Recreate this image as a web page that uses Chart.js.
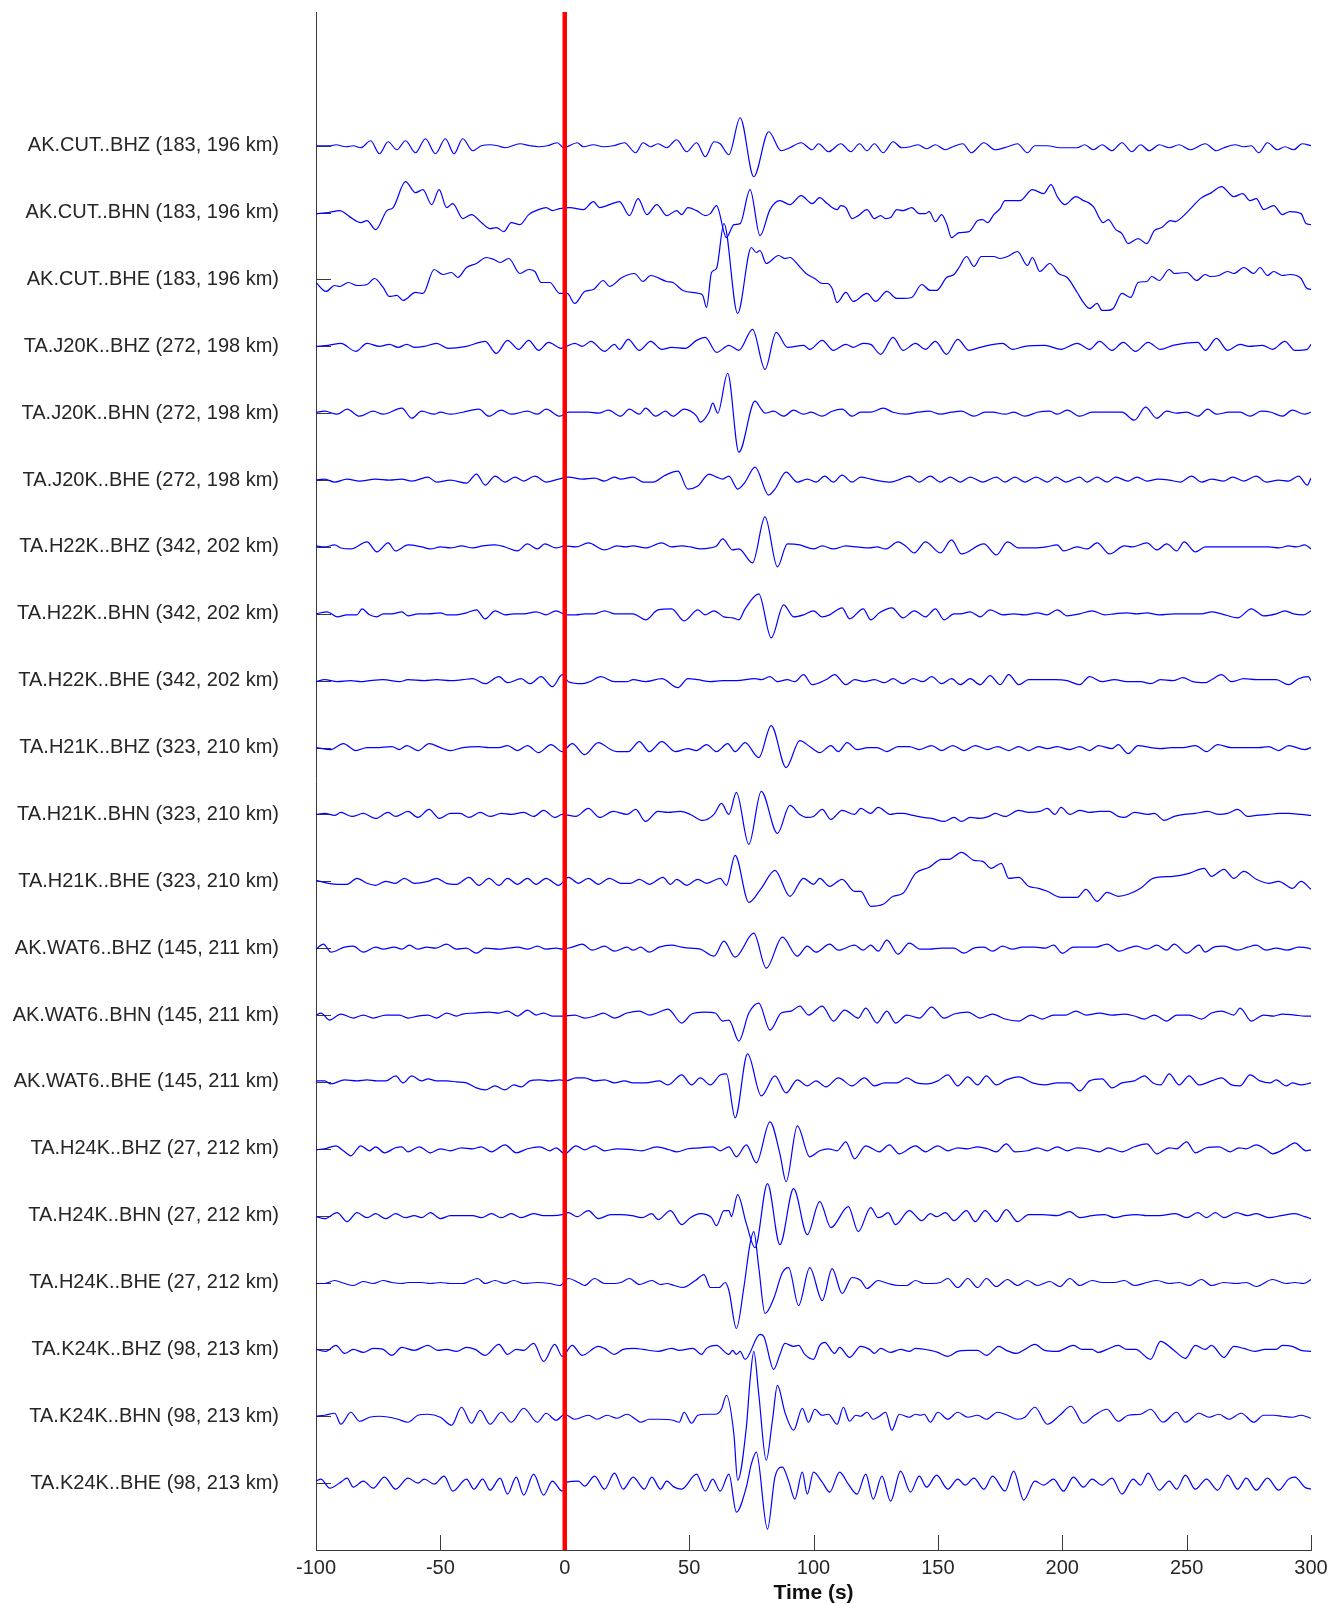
<!DOCTYPE html>
<html>
<head>
<meta charset="utf-8">
<title>Record section</title>
<script src="https://cdn.jsdelivr.net/npm/chart.js@4.4.1/dist/chart.umd.min.js"></script>
<style>
  html, body { margin: 0; padding: 0; background: #ffffff; }
  #wrap { width: 1330px; height: 1604px; }
</style>
</head>
<body>
<div id="wrap"><canvas id="section" width="1330" height="1604"></canvas></div>
<script>
// Station / channel labels, top to bottom (epicentral azimuth, distance)
const stationLabels = [
  'AK.CUT..BHZ (183, 196 km)', 'AK.CUT..BHN (183, 196 km)', 'AK.CUT..BHE (183, 196 km)',
  'TA.J20K..BHZ (272, 198 km)', 'TA.J20K..BHN (272, 198 km)', 'TA.J20K..BHE (272, 198 km)',
  'TA.H22K..BHZ (342, 202 km)', 'TA.H22K..BHN (342, 202 km)', 'TA.H22K..BHE (342, 202 km)',
  'TA.H21K..BHZ (323, 210 km)', 'TA.H21K..BHN (323, 210 km)', 'TA.H21K..BHE (323, 210 km)',
  'AK.WAT6..BHZ (145, 211 km)', 'AK.WAT6..BHN (145, 211 km)', 'AK.WAT6..BHE (145, 211 km)',
  'TA.H24K..BHZ (27, 212 km)', 'TA.H24K..BHN (27, 212 km)', 'TA.H24K..BHE (27, 212 km)',
  'TA.K24K..BHZ (98, 213 km)', 'TA.K24K..BHN (98, 213 km)', 'TA.K24K..BHE (98, 213 km)'
];

// Time axis ticks (s, relative to origin time)
const timeTicks = [-100, -50, 0, 50, 100, 150, 200, 250, 300];

// Normalised waveforms: [time (s), amplitude] at the turning points of each trace.
// Amplitude units: one trace slot = traceSpacing units.
const cutBHZ = [[-100,0],[-94,0],[-92,1],[-88,-1],[-85,0],[-82,-2],[-78,5],[-74.5,-8],[-71,4],[-67.5,-4],[-64,5],[-60,-7],[-56,7],[-52,-8],[-48,7],[-44.5,-8],[-41,7],[-37,-5],[-33.5,0],[-30,1],[-27,0],[-24,-2],[-18,2],[-14,0],[-10.5,-1],[-7,0],[-3,3],[-0.5,-2],[5,3],[7.5,-1],[11.5,1],[15.5,-1],[19.5,0],[24,3],[28.5,-7],[31.5,3],[34.5,-1],[37.5,2],[41,-2],[45,6],[49,-6],[53,3],[56.5,-11],[60,4],[62.5,2],[66,-9],[70.5,28],[76,-31],[82,14],[87,-5],[90.5,-2],[95,3],[99.5,-4],[102,2],[106,-6],[111,2],[115,-6],[118.5,2],[121.5,-5],[124.5,2],[128,-7],[132,4],[135.5,-2],[139,-1],[142,1],[145.5,-3],[149,1],[153,-4],[156,-1],[160,2],[163.5,-7],[168.5,3],[173,-4],[178,-1],[182,2],[186,-7],[189,0],[194,0],[199,-2],[206,-2],[209,1],[212.5,-4],[216,1],[220,-5],[224,3],[228,-6],[231.5,1],[235,-5],[239,1],[243,-2],[247,1],[251.5,-4],[257.5,2],[262,-5],[265,-2],[269.5,1],[273,-1],[276,0],[279,-7],[282.5,3],[286.5,-4],[289.5,-1],[293,-4],[296.5,2],[300,0]];
const cutBHN = [[-100,-1],[-95,0],[-90.5,2],[-86.5,-4],[-82,-10],[-79.5,-8],[-76,-17],[-71.5,2],[-69,5],[-64,31],[-60,20],[-57,23],[-53.5,8],[-50.5,23],[-47.5,5],[-45,9],[-41,-6],[-37.5,-2],[-33.5,-10],[-30,-16],[-27.5,-15],[-24.5,-19],[-21.5,-10],[-18,-12],[-14.5,-2],[-10.5,3],[-7.5,5],[-5,2],[-2,4],[2,5],[7.5,3],[11.5,11],[14,5],[18,8],[22,11],[26,-3],[29.5,14],[33,-2],[37,8],[41,-3],[45,2],[47,-2],[49.5,5],[53,2],[56.5,-3],[58.5,-1],[61,7],[65,-25],[68,-12],[70.5,-11],[74.5,23],[78.5,-23],[82.5,3],[86.5,12],[90.5,8],[95,17],[99.5,9],[102.5,15],[105.5,9],[109.5,3],[111,7],[113,5],[115.5,-6],[118,-3],[121.5,3],[124.5,-6],[127,-3],[129,-6],[131,-5],[133.5,3],[136,2],[139.5,5],[142.5,-1],[145,-1],[146.5,1],[149,-9],[151.5,-2],[153.5,-11],[155.5,-25],[158.5,-20],[162.5,-19],[166,-8],[168,-7],[170,-10],[172.5,-2],[175,4],[177,12],[183,12],[188,23],[192.5,19],[195.5,28],[198,16],[201,8],[205.5,16],[208.5,12],[210.5,10],[212.5,6],[216.5,-10],[218.5,-7],[221.5,-17],[224,-21],[226.5,-31],[230.5,-26],[234,-31],[237,-18],[240,-15],[243.5,-8],[245.5,-9],[247.5,-6],[252,5],[255.5,14],[260,20],[264,26],[269,16],[272.5,19],[275.5,12],[278,14],[281,3],[285,7],[288.5,-2],[291.5,1],[296,-1],[298,-11],[300,-12]];
const cutBHE = [[-100,-3],[-96,-12],[-92.5,-6],[-90.5,-7],[-87,-3],[-83.5,-6],[-79.5,-5],[-76.5,1],[-73,-8],[-70.5,-17],[-67.5,-16],[-65,-21],[-60,-13],[-57,-14],[-52.5,10],[-49,5],[-45.5,7],[-43,2],[-39.5,12],[-35.5,16],[-31.5,22],[-28.5,20],[-26,17],[-22.5,21],[-18,6],[-14.5,10],[-12,8],[-9.5,-3],[-6,-3],[-2,-14],[1,-14],[4,-24],[8,-12],[11.5,-10],[15.5,-1],[18,-7],[23,2],[28,6],[31.5,-2],[34.5,4],[41,-2],[43.5,-3],[47.5,-11],[54,-14],[55.5,-16],[57,-28],[59,7],[61,11],[64,56],[69.5,-34],[75,32],[77,27],[78.5,29],[81,16],[86,24],[88.5,21],[90.5,22],[94,14],[97,6],[100.5,1],[103.5,-4],[105.5,-4],[107.5,-9],[109.5,-23],[113,-13],[116,-22],[121.5,-14],[125,-22],[129.5,-12],[133.5,-19],[136,-19],[139.5,-18],[143.5,-5],[147,-11],[149.5,-11],[153.5,2],[156.5,5],[158.5,12],[161.5,23],[164.5,13],[167.5,23],[172.5,23],[175,21],[178,23],[182,28],[186,14],[188,22],[191,8],[195,16],[198.5,6],[202,2],[206,-13],[208.5,-23],[211,-29],[214,-24],[216,-31],[218,-31],[220.5,-29],[224,-14],[227.5,-18],[230.5,-3],[234,-2],[236,3],[239,-1],[243,10],[245,6],[250,7],[254,-1],[257.5,5],[259.5,3],[263,4],[266.5,8],[269,6],[273,12],[277,6],[279.5,12],[282.5,4],[285,8],[288.5,4],[291.5,5],[296,1],[298,-8],[300,-10]];
const j20BHZ = [[-100,0],[-95,1],[-90,3],[-84,-5],[-79.5,3],[-74.5,0],[-70.5,2],[-67,-1],[-63.5,2],[-60.5,-1],[-56.5,0],[-51.5,3],[-47,-2],[-39.5,0],[-32,5],[-27.5,-7],[-23,6],[-18.5,-3],[-14.5,6],[-10.5,-4],[-6.5,4],[-1.5,-2],[4,3],[7,0],[10.5,5],[16,-5],[20,2],[22,-3],[25.5,7],[30,-4],[34.5,5],[39,-3],[43,-1],[48.5,-2],[53,6],[56.5,9],[61,-6],[66,1],[70,-4],[75.5,17],[80.5,-23],[85,14],[89.5,-1],[96,1],[98.5,-3],[103.5,6],[108,-4],[113,2],[116,-1],[120,3],[123,2],[127,-8],[132,9],[136,-4],[141,3],[145,-3],[149,5],[153.5,-8],[158,7],[162.5,-4],[167,-1],[176,3],[180,-3],[185,0],[193,1],[199.5,-3],[206,3],[211,-3],[215,5],[220,-4],[224.5,4],[229.5,-5],[234.5,4],[239.5,-3],[244.5,1],[254.5,4],[257.5,-4],[262,8],[266.5,-4],[271.5,2],[275,0],[280.5,1],[284.5,-3],[289.5,5],[293.5,-4],[298.5,-3],[300,2]];
const j20BHN = [[-100,1],[-96.5,2],[-91.5,-1],[-87.5,4],[-82.5,-3],[-77,2],[-73,-1],[-65.5,5],[-61.5,-5],[-57.5,2],[-52.5,-1],[-50,1],[-46,-1],[-41,1],[-34.5,4],[-30.5,-3],[-25.5,3],[-21.5,-1],[-15,2],[-11,-1],[-7.5,4],[-2,-3],[1.5,1],[9.5,1],[13.5,0],[17.5,3],[22.5,-3],[26,4],[30,-1],[32.5,5],[36.5,-3],[40.5,2],[43.5,-3],[48,4],[53,-3],[54.5,-9],[58,1],[59.5,10],[61.5,0],[65.5,40],[70,-39],[76.5,12],[79,4],[80.5,0],[84,2],[88,-3],[92,3],[96,-1],[99,1],[103.5,-3],[107.5,2],[111.5,4],[115.5,-3],[119,1],[123,1],[128,5],[132,1],[137,-1],[142,1],[146.5,2],[151,-1],[155.5,1],[159.5,2],[164.5,-3],[169,1],[172,1],[177,-1],[180.5,1],[185,-3],[190,1],[195,2],[198,-1],[202,3],[207,-3],[212,1],[217,1],[224,1],[229,-7],[233.5,6],[238,-5],[242,2],[246,0],[250,1],[254.5,-3],[258.5,4],[262,-1],[267,1],[271.5,1],[275.5,-3],[280,2],[284,1],[288.5,-3],[292.5,3],[297.5,-1],[300,1]];
const j20BHE = [[-100,0],[-96.5,1],[-92.5,-2],[-87.5,1],[-82.5,-1],[-76,1],[-70.5,0],[-65.5,1],[-61.5,-1],[-55,3],[-51.5,-2],[-46,0],[-39.5,-3],[-35.5,6],[-32,-5],[-28,4],[-24,-2],[-20,3],[-16.5,-1],[-12,4],[-7.5,-2],[-2.5,1],[1.5,3],[7,1],[12,2],[16,-1],[20,3],[22.5,1],[27.5,3],[31.5,-2],[35.5,-2],[40.5,5],[45.5,9],[49.5,-9],[53.5,-6],[58,6],[61,3],[63.5,1],[66,4],[69.5,-9],[72.5,-2],[76.5,13],[82,-15],[84.5,-9],[89,8],[93.5,-2],[97.5,1],[101,-2],[104.5,4],[108,-2],[111.5,5],[115.5,-2],[119,3],[123,1],[127,-1],[131,-2],[135,1],[138.5,4],[142.5,-2],[147,4],[151,-2],[155,3],[159,-2],[163,3],[168,-2],[173.5,3],[177,-2],[181,3],[185,-2],[189.5,3],[194,-2],[197.5,3],[201.5,-2],[207,3],[210,-2],[214,3],[218,-2],[221.5,3],[226.5,-1],[230,3],[234,-1],[238.5,1],[243,0],[247.5,-2],[252,4],[256,-2],[260,1],[265,-1],[268.5,3],[273,-1],[278,4],[282,-2],[287,0],[291,-1],[295,4],[298.5,-5],[300,2]];
const h22BHZ = [[-100,1],[-96.5,0],[-92.5,2],[-90,-1],[-86,-2],[-79.5,5],[-75.5,-5],[-71,4],[-68,-4],[-63,2],[-57.5,0],[-54,-2],[-50,0],[-46,-1],[-41.5,1],[-37,-1],[-33,1],[-28,2],[-24,0],[-19,-4],[-15,3],[-11,-2],[-8,3],[-3.5,-1],[0,1],[4.5,0],[9.5,4],[16,-3],[21,1],[24.5,0],[27.5,1],[32.5,-1],[39,4],[43,0],[47,1],[50.5,0],[54.5,-2],[58.5,-1],[61,1],[63.5,8],[67.5,-3],[70,-2],[75.5,-16],[80.5,30],[85.5,-20],[89.5,3],[94.5,2],[100,-2],[103.5,1],[108,-2],[113,1],[117.5,0],[122.5,-1],[125.5,0],[129,-2],[134,5],[137,1],[140.5,-6],[145,5],[151,-6],[155.5,7],[159.5,-7],[168.5,3],[173.5,-8],[178,5],[182.5,-1],[189,-1],[193.5,0],[198,2],[200.5,-4],[206,0],[210,-2],[214,4],[219,-7],[225,1],[228,0],[234,4],[238,-3],[242,3],[246,-4],[249,5],[253.5,-5],[257.5,0],[265,0],[273,0],[278,0],[283,0],[287,-1],[291,1],[294,0],[297.5,2],[300,-2]];
const h22BHN = [[-100,0],[-95.5,2],[-91.5,-3],[-87.5,-1],[-83.5,-1],[-81.5,5],[-78.5,-1],[-75.5,-3],[-73,0],[-69.5,0],[-65.5,2],[-63,-2],[-59,0],[-55,0],[-50,1],[-47.5,-1],[-43.5,-1],[-39.5,1],[-35.5,4],[-32,-5],[-28,3],[-24,-1],[-20.5,0],[-16.5,0],[-11.5,2],[-7.5,-1],[-3.5,3],[0.5,-1],[4.5,-1],[8,0],[12,0],[16,3],[20,0],[22.5,0],[27.5,0],[30,-3],[32.5,-6],[37.5,4],[43,5],[48,-7],[53.5,4],[56.5,-1],[60,3],[64,-3],[67.5,-4],[70,-6],[72.5,5],[78,20],[83,-24],[88,9],[92,-3],[96,-1],[100,3],[103.5,-3],[106.5,-1],[111.5,6],[114.5,-5],[120,5],[123,-6],[126.5,1],[131.5,6],[136,-4],[140.5,3],[145,-3],[149,5],[152.5,-6],[156.5,0],[159,0],[163,2],[167,-3],[171,4],[176,-1],[180.5,0],[185,-1],[190,1],[194,-1],[198,4],[202,-2],[207,0],[212,3],[217,-1],[221,0],[226,1],[230,0],[234,1],[239,-1],[245,0],[250,0],[256,0],[260,2],[264,0],[270.5,-4],[276,5],[281,-2],[286,0],[289.5,3],[293,0],[297,-1],[300,3]];
const h22BHE = [[-100,-1],[-96.5,1],[-91.5,-1],[-86,0],[-82,-1],[-78.5,0],[-73,1],[-66.5,-1],[-63,1],[-56.5,0],[-51.5,1],[-46,0],[-41,1],[-37,2],[-32,-3],[-26.5,4],[-23,-2],[-17.5,2],[-14,-3],[-9.5,4],[-5,-6],[-1,6],[1.5,-1],[7,-3],[10,-1],[14.5,4],[20,-1],[25,-1],[27.5,1],[32.5,-1],[39,2],[45.5,-7],[49.5,2],[53.5,1],[58.5,-1],[63.5,0],[69,0],[76.5,2],[79,1],[82.5,4],[85.5,-1],[89.5,1],[92.5,-1],[96,6],[99.5,-4],[105,1],[108.5,6],[113,-4],[116.5,1],[120.5,-1],[124.5,1],[128.5,-2],[132,2],[136,-3],[140,2],[144,-1],[147.5,4],[151.5,-3],[155.5,2],[159,-4],[163,2],[167,-4],[171,5],[175,-4],[178.5,6],[182.5,-4],[186.5,1],[191.5,1],[197,1],[202,0],[207,-4],[211,4],[216,-1],[221,1],[226,-1],[231.5,-1],[235.5,-3],[239.5,1],[244.5,0],[248.5,3],[252.5,-1],[257.5,-2],[260,1],[264,6],[268,-1],[273,2],[278,1],[282,1],[286,1],[291,-4],[295,2],[299,4],[300,0]];
const h21BHZ = [[-100,0],[-94,-2],[-89,4],[-84,-3],[-79.5,0],[-76,0],[-69.5,1],[-66.5,-2],[-63.5,2],[-59,-3],[-54.5,4],[-50,0],[-46,-3],[-41,0],[-34.5,1],[-30.5,0],[-26.5,0],[-23,2],[-19,-3],[-15,2],[-10.5,-5],[-5.5,3],[-1,-4],[3,4],[8,-7],[13.5,5],[18.5,-2],[21,-4],[25.5,-4],[30,6],[34,-4],[39,6],[44.5,-4],[49.5,-1],[53,-3],[57,3],[61,-4],[65.5,4],[68.5,-4],[72.5,5],[78,-10],[83,22],[89,-20],[94.5,7],[98.5,1],[102.5,-5],[107,2],[110,-4],[113.5,5],[117.5,-2],[122,0],[125.5,0],[129.5,-4],[134,1],[138.5,1],[142.5,-2],[147.5,2],[151.5,-3],[156,2],[160.5,-3],[165,2],[170,-2],[174,1],[178.5,-3],[182.5,1],[186.5,-3],[190.5,1],[194,-1],[198,1],[203,-2],[207,1],[211,-3],[214.5,2],[220,-1],[222.5,3],[226.5,-6],[230.5,2],[235.5,0],[239.5,-1],[244,0],[248.5,0],[253.5,2],[258,-4],[262.5,3],[268,0],[273,0],[279,0],[283,1],[287,-3],[291,2],[297.5,-2],[300,0]];
const h21BHN = [[-100,0],[-96.5,1],[-92.5,-1],[-90,2],[-85.5,-2],[-81,1],[-76,-4],[-71,2],[-68,-2],[-63,3],[-59,-3],[-54.5,5],[-50.5,-4],[-46,1],[-42,1],[-38.5,-3],[-34,2],[-30,-2],[-25.5,1],[-21.5,0],[-16.5,2],[-12.5,-2],[-8.5,4],[-4,-3],[-1,0],[4.5,-2],[9.5,6],[14,-3],[19.5,3],[25,0],[28.5,5],[32.5,-7],[37.5,3],[41.5,2],[46.5,3],[50.5,0],[55.5,-6],[60,0],[63,11],[66,0],[69,22],[74,-30],[79,23],[85.5,-19],[90.5,9],[94.5,0],[97.5,-3],[100,-2],[103.5,5],[107,-5],[111.5,4],[116.5,0],[119,6],[123,1],[126,7],[131,0],[133.5,1],[136,1],[140,-1],[144,-3],[147.5,-4],[152.5,-7],[156.5,-3],[159.5,-7],[163,-3],[167,-4],[170.5,-2],[173,1],[177,-2],[182.5,4],[186.5,2],[191,3],[194,6],[197,0],[199.5,7],[203,0],[207,4],[211,2],[215,3],[219,3],[222.5,-2],[225,-3],[229,2],[234.5,0],[237,1],[241,-6],[245,-2],[249,0],[253.5,1],[258.5,3],[263,0],[266.5,1],[270.5,5],[274.5,-2],[278,-1],[283,0],[287,1],[291,1],[296,0],[300,-1]];
const h21BHE = [[-100,1],[-95,-2],[-91,-3],[-87.5,-3],[-83.5,3],[-79.5,-2],[-76,-4],[-72,0],[-68,-2],[-64.5,3],[-60.5,-2],[-55,0],[-51.5,3],[-47.5,-2],[-43.5,-3],[-38.5,4],[-34.5,-4],[-30.5,3],[-26.5,-4],[-23,3],[-19,-3],[-15,3],[-11.5,-3],[-7.5,3],[-2.5,-4],[1.5,4],[5.5,-2],[9.5,3],[13.5,-3],[18,3],[22.5,-2],[26.5,-2],[30,2],[34,-3],[39.5,4],[42.5,-3],[45,2],[49,-4],[53.5,2],[57,-2],[62.5,3],[65,-4],[68.5,26],[74,-21],[79,-7],[84.5,11],[90.5,-15],[96,3],[100,-3],[102.5,3],[106.5,-5],[111.5,2],[116.5,-10],[119,-10],[123,-25],[128,-23],[132,-15],[136,-12],[141,8],[146.5,14],[151.5,22],[154.5,22],[159.5,29],[164.5,21],[168,20],[171.5,13],[175.5,18],[178.5,3],[182.5,4],[186.5,-5],[190.5,-7],[194,-10],[199.5,-16],[206,-16],[209.5,-8],[214,-20],[218,-11],[222.5,-15],[226.5,-13],[231.5,-7],[236.5,3],[244.5,5],[251,8],[257,13],[260,5],[265,12],[269,3],[273,10],[278,2],[283,-2],[287,0],[292.5,-7],[296,0],[300,-8]];
const wat6BHZ = [[-100,-1],[-97,4],[-94,-4],[-88.5,1],[-85,2],[-81,-4],[-76,1],[-73,-1],[-68.5,1],[-65.5,-1],[-62.5,3],[-59,-1],[-55.5,1],[-52,0],[-47.5,4],[-43.5,-1],[-39.5,0],[-35.5,-5],[-32,0],[-26.5,-1],[-23,0],[-19,1],[-15,-1],[-11,2],[-7.5,-1],[-3.5,0],[-1,-1],[3,1],[7,4],[11,-2],[16,2],[20,-3],[25,1],[27.5,-2],[30.5,1],[34,-4],[38,1],[43,3],[47,1],[50.5,0],[54.5,-1],[60,-8],[64,7],[68.5,-9],[76,15],[81,-20],[87.5,11],[93.5,-8],[97.5,2],[101,-4],[106.5,4],[110,-2],[116.5,3],[120,-2],[123,3],[126,-3],[129.5,8],[134,-6],[138.5,5],[143,-1],[146.5,-1],[151.5,0],[156.5,0],[160.5,-5],[164.5,0],[168.5,1],[172,-3],[176,2],[180,-1],[184,1],[189,1],[193,0],[196.5,3],[200,-5],[204.5,1],[208.5,1],[213.5,1],[218,4],[223,-3],[226.5,0],[230,2],[234,-1],[238,3],[242,-2],[245,4],[250,-5],[255,3],[257.5,-4],[261,1],[265,2],[270.5,-2],[274.5,1],[278,3],[282,-2],[286,0],[290.5,-2],[295,1],[299,0],[300,-1]];
const wat6BHN = [[-100,0],[-98,2],[-94.5,-5],[-90,1],[-85,-3],[-81,0],[-77,-3],[-72,0],[-66.5,0],[-63,-3],[-59,-1],[-55,0],[-51.5,-3],[-47.5,2],[-43.5,-1],[-41,1],[-36,2],[-30.5,3],[-26.5,2],[-23,4],[-19,-1],[-15,5],[-11.5,0],[-8.5,2],[-5,-1],[-1,-1],[4,0],[8,-3],[12,-1],[15.5,2],[20,-3],[25,2],[30,4],[34,0],[38,3],[41.5,6],[47,-8],[51,1],[56,3],[60.5,2],[63.5,-6],[66,-5],[70,-26],[74,2],[78,12],[82.5,-15],[87,2],[91,4],[94.5,9],[98,0],[103.5,9],[108,-6],[112.5,5],[118,-3],[121,7],[125.5,-8],[129.5,4],[133,-8],[137.5,0],[142.5,-3],[147.5,8],[152.5,-3],[156.5,1],[162,3],[167,-3],[172,1],[177,-4],[182.5,-6],[187.5,0],[192,-4],[196.5,0],[201.5,0],[205.5,4],[209.5,0],[215,2],[220,0],[225,1],[229,-1],[233,-4],[237,0],[242,-6],[246,0],[251,0],[256,-4],[260,2],[264,4],[269,0],[271.5,7],[276,-6],[281,0],[285,-1],[288.5,1],[293.5,0],[297.5,-1],[300,-1]];
const wat6BHE = [[-100,1],[-96.5,1],[-94,-2],[-88.5,2],[-83.5,1],[-79.5,2],[-75.5,1],[-72,1],[-68,6],[-65,-1],[-61.5,6],[-57.5,1],[-55,3],[-51.5,1],[-47.5,1],[-43.5,0],[-39.5,-1],[-35.5,-6],[-32,-8],[-28,-4],[-24,-8],[-20.5,-3],[-17.5,-5],[-14,1],[-10,2],[-6,1],[-2,2],[0.5,1],[4.5,4],[8,4],[12,1],[16,2],[20,-1],[24,1],[27.5,-1],[32.5,-1],[38,1],[41.5,-3],[47,7],[51,-3],[54.5,4],[58.5,-3],[62.5,7],[65,8],[68.5,-36],[73.5,28],[79,-14],[84.5,6],[89,-11],[93.5,2],[97.5,-4],[101,1],[105,-5],[110,4],[115.5,-4],[120.5,4],[124.5,-4],[128.5,-1],[133.5,-1],[137.5,4],[141.5,-1],[146,-2],[150,1],[154,7],[158,-4],[162,5],[166,-3],[169.5,6],[173.5,-3],[177.5,2],[182.5,5],[188,-1],[193,-3],[198,-1],[203,-1],[207,-9],[211,1],[216,3],[220,-6],[224,-1],[229,1],[233,6],[236.5,-1],[239.5,-3],[243,8],[247,-3],[251,6],[255,-3],[260,1],[264,4],[268,-3],[271.5,-4],[275.5,7],[279.5,1],[283.5,-1],[286,2],[290,-4],[292.5,-1],[296,-3],[300,-1]];
const h24BHZ = [[-100,-1],[-96.5,0],[-92,3],[-89,-2],[-86,-7],[-82,3],[-78.5,-2],[-76,2],[-72.5,-4],[-68,1],[-65.5,2],[-63,-3],[-58.5,2],[-54,-4],[-50,0],[-46,-2],[-41.5,1],[-37,0],[-33.5,2],[-29.5,-3],[-24,4],[-19.5,-4],[-15,0],[-10,2],[-6,-2],[-3.5,1],[0,-5],[4.5,3],[8,-1],[12,3],[16,-2],[21,0],[27.5,-1],[31,-2],[37,2],[42,-1],[45,-3],[49.5,0],[54.5,1],[59.5,2],[62.5,-2],[66,2],[69,-8],[73,4],[77,-14],[82.5,27],[86.5,-5],[89,-33],[93.5,23],[98.5,-8],[102.5,-2],[106,0],[109.5,-2],[113,7],[116.5,-10],[121,3],[126.5,-3],[130.5,4],[134.5,-5],[141,3],[145,-3],[150,3],[154,-2],[158,1],[162,0],[166,2],[170,0],[173.5,-3],[177.5,5],[181,-3],[186,-2],[190,1],[194,-2],[198,2],[202,-2],[206,1],[210,0],[215,-3],[218.5,1],[224,-3],[229,2],[234,5],[238,-5],[243,1],[246,0],[250,7],[253.5,-4],[258,1],[263,2],[267.5,-3],[271,1],[274,0],[278,4],[282,-1],[284.5,-5],[290,1],[293.5,6],[298,-2],[300,-1]];
const h24BHN = [[-100,-1],[-96.5,-3],[-91.5,3],[-87.5,-6],[-83.5,3],[-79.5,-2],[-76,2],[-72,-3],[-68,2],[-64,-2],[-60.5,0],[-57.5,-2],[-54,3],[-50,-3],[-46,0],[-42,0],[-37,0],[-33.5,-2],[-29.5,2],[-25.5,-2],[-21.5,2],[-17.5,-2],[-12.5,2],[-8.5,0],[-5,0],[-1,1],[1.5,3],[5,-1],[9.5,5],[13.5,-3],[18.5,1],[22.5,1],[27,0],[31,-2],[35,2],[37.5,-4],[42.5,5],[47,-9],[50.5,-2],[54.5,2],[59,-2],[61,-10],[64,5],[66,5],[67,-1],[69.5,21],[73,-8],[76.5,-32],[81.5,32],[86.5,-29],[92,27],[97.5,-19],[102.5,14],[107,-12],[114,9],[118,-16],[123,8],[126,-2],[127.5,-1],[130,3],[133,-9],[138.5,5],[143.5,-5],[147,2],[149.5,-1],[153,3],[156.5,-5],[161.5,5],[165,-6],[169,5],[173.5,-6],[177.5,6],[182,-6],[186.5,1],[192,1],[198,0],[203,4],[207,-2],[212,0],[217,1],[221,-2],[225,0],[230,1],[234,0],[239,0],[245.5,2],[250,-2],[254.5,3],[258,-2],[261.5,3],[265,-2],[270,3],[274.5,0],[278,2],[283,-2],[288,0],[293.5,2],[297.5,-1],[300,-3]];
const h24BHE = [[-100,-1],[-96.5,-1],[-92.5,2],[-88.5,-1],[-85,-3],[-81,1],[-77,-1],[-73,2],[-69.5,0],[-65.5,-1],[-63,0],[-57.5,0],[-54,-1],[-50,0],[-46,-1],[-41,-1],[-35,4],[-32,-1],[-28,2],[-24,-1],[-20.5,2],[-16.5,-1],[-11,0],[-6,-1],[-2,-3],[1.5,4],[5.5,0],[8,-3],[12,4],[16,-1],[20,-1],[22.5,0],[26,4],[30,-2],[35,2],[38.5,-2],[41,-1],[44,-3],[47.5,-5],[52.5,2],[56,8],[58.5,-5],[62,-5],[64.5,0],[66,-8],[69,-46],[72,-5],[74.5,39],[76,51],[78,15],[80.5,-31],[84,-16],[87.5,10],[90,15],[94,-23],[98.5,15],[103.5,-18],[107.5,14],[111.5,-11],[115.5,5],[119,2],[121.5,-6],[126,2],[130,-1],[134,-3],[137.5,-3],[141,2],[144.5,-1],[148,-1],[151,0],[154,4],[158,-5],[162,4],[166,-5],[169.5,4],[173.5,-4],[178,3],[182,-3],[186,2],[190,-3],[195,1],[199,-4],[203,4],[207,-3],[212,2],[216,0],[221,0],[225,2],[229,-3],[234,0],[238,2],[243,-1],[247,0],[251,-3],[256,3],[260,-3],[265,0],[270,-1],[274,0],[278,-4],[284.5,3],[290,-1],[293.5,0],[297,-1],[300,3]];
const k24BHZ = [[-100,0],[-96,-2],[-92,4],[-88.5,-4],[-85,0],[-81,-3],[-77,1],[-73,0],[-69.5,-6],[-65.5,2],[-60.5,-1],[-55,4],[-51,-1],[-47.5,0],[-43.5,-2],[-39.5,2],[-36,0],[-32,-6],[-26.5,5],[-23,-5],[-19.5,0],[-16.5,-1],[-12.5,6],[-8.5,-12],[-4,5],[-1,-7],[3,4],[7,-6],[13.5,3],[16,1],[20,-5],[23.5,0],[28,1],[31.5,0],[37.5,-2],[43,1],[46,-1],[51.5,1],[55,-5],[57,1],[61,4],[66,-5],[67.5,-1],[69,-5],[70.5,-2],[72.5,-10],[78.5,15],[80,13],[84,-20],[86.5,-5],[88.5,6],[92,3],[94,4],[96.5,-5],[100,-10],[102.5,4],[104.5,7],[108.5,-4],[110.5,2],[114.5,-8],[119,3],[122.5,0],[124.5,-4],[127,1],[131,-3],[135,0],[138.5,-2],[141,1],[147,-1],[150,-3],[154,-7],[158,-2],[162,-1],[166,-1],[169.5,-6],[174.5,3],[177.5,-1],[181.5,-4],[185,0],[189,5],[193,-1],[198,-2],[204.5,4],[208,0],[212,0],[214.5,-3],[218,0],[222.5,4],[226,0],[229.5,0],[235.5,-10],[239.5,8],[244.5,0],[249.5,-9],[253.5,4],[257.5,0],[260,4],[265,-8],[269,3],[273,1],[277.5,-2],[281.5,0],[286,0],[288.5,4],[292.5,3],[296,-1],[300,-2]];
const k24BHN = [[-100,0],[-96.5,1],[-92.5,3],[-90,-8],[-86,4],[-82.5,-5],[-78.5,-1],[-74.5,0],[-70.5,-1],[-67,-3],[-63,-6],[-59,1],[-55,2],[-50,-1],[-45.5,-9],[-41.5,9],[-37.5,-7],[-34,6],[-30,-8],[-25.5,4],[-21.5,-6],[-16.5,8],[-11,-6],[-7.5,3],[-3.5,-4],[0,2],[4,-3],[9.5,1],[13,-3],[17,1],[21,-2],[25,2],[28.5,-3],[30.5,-6],[34,-3],[38,-3],[43.5,-4],[46,-6],[48,4],[51,-7],[53.5,1],[57,2],[60.5,2],[63,7],[65,21],[68,-18],[69.5,-64],[73,-11],[74.5,36],[76,65],[78,22],[81,-44],[83.5,-4],[85.5,31],[88.5,4],[92,-14],[95.5,8],[98,-6],[100.5,7],[103.5,1],[106,2],[109.5,-8],[112,9],[114.5,-5],[117,1],[119,0],[121.5,4],[124,-3],[126.5,0],[129,4],[131.5,-14],[134.5,2],[138.5,-1],[141,2],[143,1],[144.5,2],[147,-6],[150,4],[154,-3],[158,4],[162,-1],[166,1],[169.5,-3],[174,4],[178,1],[182,-3],[185,-1],[189,9],[194,-8],[199,1],[203.5,10],[208.5,-7],[213,1],[218,7],[222.5,-5],[226.5,1],[231.5,2],[235.5,7],[240.5,-6],[246,4],[249.5,-6],[255,3],[259,-1],[263,2],[267,-3],[272,3],[277,-6],[281,1],[285,1],[288.5,0],[292.5,-1],[296,1],[300,-2]];
const k24BHE = [[-100,2],[-98,4],[-94.5,-5],[-90,1],[-87.5,5],[-85,-4],[-81,2],[-77,-5],[-72.5,6],[-68,-6],[-63,5],[-59,0],[-56.5,4],[-52.5,-1],[-48.5,7],[-45,-8],[-39.5,4],[-36.5,-6],[-33,4],[-30,-7],[-26,5],[-23,-11],[-19.5,6],[-16.5,-12],[-12.5,9],[-8.5,-12],[-5,2],[-1,-8],[1,1],[5.5,2],[8,-3],[12,7],[16,-6],[20,10],[23.5,-6],[27.5,6],[32,-6],[35,6],[38.5,-6],[41,2],[44,-4],[47,-6],[53,9],[56.5,-8],[59.5,4],[62.5,-8],[66,9],[69,-29],[73,-4],[75,19],[77,31],[81.5,-46],[84.5,6],[87.5,16],[90,2],[92.5,-16],[95.5,11],[97.5,-11],[100,11],[103.5,1],[106.5,-9],[110.5,11],[114,-1],[117.5,-11],[121,9],[124,-16],[127.5,7],[131,-18],[135,12],[139,-9],[142.5,7],[145.5,-4],[149.5,8],[154,-6],[158,4],[161,-2],[164.5,5],[168.5,-6],[172,7],[177,-8],[180.5,12],[184.5,-17],[189,2],[192.5,-2],[196.5,4],[200.5,-8],[204.5,6],[208.5,-4],[212,4],[216,-2],[220,5],[224,-11],[228.5,4],[231.5,-2],[234.5,10],[239,-7],[243,2],[246,-6],[249.5,8],[253.5,-6],[258,4],[262.5,-7],[266.5,8],[270.5,-6],[274,5],[278,-7],[282.5,5],[287,-7],[291,4],[293.5,6],[297.5,-4],[300,-6]];

// Same order as stationLabels
const traces = [
  cutBHZ, cutBHN, cutBHE, j20BHZ, j20BHN, j20BHE, h22BHZ, h22BHN, h22BHE,
  h21BHZ, h21BHN, h21BHE, wat6BHZ, wat6BHN, wat6BHE, h24BHZ, h24BHN, h24BHE,
  k24BHZ, k24BHN, k24BHE
];

const originTime = 0;          // event origin, marked in red
const traceSpacing = 66.9;     // amplitude units per trace slot
const textColor = '#262626';
const axisColor = '#3a3a3a';
const tickLen = 15;
const fontFamily = "'Liberation Sans', Arial, Helvetica, sans-serif";

// Each trace is drawn around its own slot on the vertical axis (slot k = trace k)
const traceDatasets = traces.map((tr, i) => ({
  label: stationLabels[i],
  data: tr.map(([t, a]) => ({ x: t, y: (i + 1) - a / traceSpacing })),
  borderColor: '#0000ff',
  borderWidth: 1.2,
  pointRadius: 0,
  fill: false,
  cubicInterpolationMode: 'monotone'
}));

const originLine = {
  label: 'origin',
  data: [{ x: originTime, y: -1 }, { x: originTime, y: stationLabels.length + 1 }],
  borderColor: '#ff0000',
  borderWidth: 4.5,
  pointRadius: 0,
  fill: false
};

// Axis tick marks point into the plot box
const inwardTicks = {
  id: 'inwardTicks',
  beforeDatasetsDraw(chart) {
    const { ctx, chartArea: a, scales: { x, y } } = chart;
    ctx.save();
    ctx.strokeStyle = axisColor;
    ctx.lineWidth = 1;
    ctx.beginPath();
    timeTicks.forEach(v => {
      const px = Math.round(x.getPixelForValue(v)) + 0.5;
      ctx.moveTo(px, a.bottom);
      ctx.lineTo(px, a.bottom - tickLen);
    });
    stationLabels.forEach((_, i) => {
      const py = Math.round(y.getPixelForValue(i + 1)) + 0.5;
      ctx.moveTo(a.left, py);
      ctx.lineTo(a.left + tickLen, py);
    });
    ctx.stroke();
    ctx.restore();
  }
};

// Invisible outer tick marks only set the gap between labels and axes
const hiddenGrid = (len) => ({
  display: true,
  drawOnChartArea: false,
  drawTicks: true,
  tickLength: len,
  color: 'rgba(0,0,0,0)',
  tickColor: 'rgba(0,0,0,0)'
});

new Chart(document.getElementById('section'), {
  type: 'line',
  data: { datasets: [originLine, ...traceDatasets] },
  options: {
    responsive: false,
    animation: false,
    devicePixelRatio: 1,
    layout: { padding: { left: 0, right: 19, top: 11, bottom: 0 } },
    plugins: { legend: { display: false }, tooltip: { enabled: false } },
    scales: {
      x: {
        type: 'linear',
        min: -100,
        max: 300,
        afterBuildTicks: s => { s.ticks = timeTicks.map(v => ({ value: v })); },
        afterFit: s => { s.height = 54; },
        grid: hiddenGrid(6),
        border: { display: true, color: axisColor, width: 1 },
        ticks: {
          autoSkip: false,
          maxRotation: 0,
          padding: 0,
          color: textColor,
          font: { family: fontFamily, size: 20 },
          callback: v => String(v)
        },
        title: {
          display: true,
          text: 'Time (s)',
          color: '#111111',
          padding: { top: 0, bottom: -2 },
          font: { family: fontFamily, size: 21, weight: 'bold' }
        }
      },
      y: {
        type: 'linear',
        reverse: true,
        min: -1,
        max: stationLabels.length + 1,
        afterBuildTicks: s => { s.ticks = stationLabels.map((_, i) => ({ value: i + 1 })); },
        afterFit: s => { s.width = 316; },
        grid: hiddenGrid(37),
        border: { display: true, color: axisColor, width: 1 },
        ticks: {
          autoSkip: false,
          padding: 0,
          color: textColor,
          font: { family: fontFamily, size: 20 },
          callback: v => stationLabels[v - 1] || ''
        }
      }
    }
  },
  plugins: [inwardTicks]
});
</script>
</body>
</html>
